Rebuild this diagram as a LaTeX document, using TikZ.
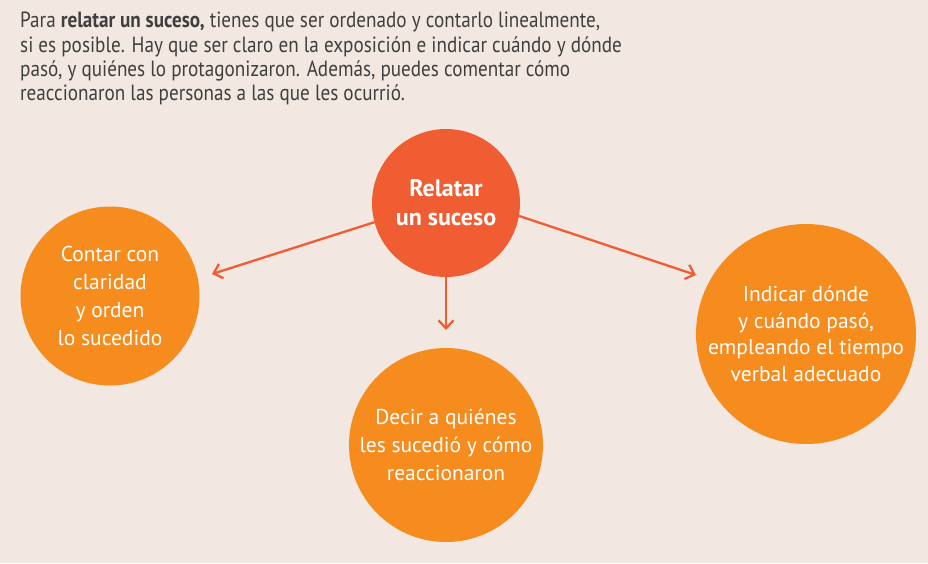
\documentclass[tikz,border=0pt]{standalone}
\usepackage{fontspec}
\setmainfont{PT Sans}
\newfontfamily\estrecha[FakeStretch=0.87]{PT Sans}
\usetikzlibrary{arrows.meta}
\definecolor{fondo}{HTML}{F2E7E1}
\definecolor{rojizo}{HTML}{F15D33}
\definecolor{naranja}{HTML}{F68B1E}
\definecolor{texto}{HTML}{3F3F3F}

\tikzset{
  idea/.style={circle, fill=naranja, inner sep=0pt, outer sep=0pt, text=white, align=center, font=\fontsize{21.5}{28}\selectfont},
  flecha/.style={->, draw=rojizo, line width=2.3pt},
}

\begin{document}
\begin{tikzpicture}[x=1pt, y=-1pt, >={Straight Barb[length=8pt,width=15pt]}]
  \fill[fondo] (0,0) rectangle (928,563);

  \node[anchor=north west, align=left, inner sep=0pt, text=texto, font=\estrecha\fontsize{22}{24.3}\selectfont] (intro) at (20,12)
    {Para \textbf{relatar un suceso,} tienes que ser ordenado y contarlo linealmente,\\
     si es posible. Hay que ser claro en la exposición e indicar cuándo y dónde\\
     pasó, y quiénes lo protagonizaron. Además, puedes comentar cómo\\
     reaccionaron las personas a las que les ocurrió.};

  \node[circle, fill=rojizo, minimum size=148pt, inner sep=0pt, outer sep=0pt, text=white, align=center, font=\bfseries\fontsize{24}{29}\selectfont] (suceso) at (446,203) {Relatar\\un suceso};

  \node[idea, minimum size=179pt] (claridad) at (110,296) {Contar con\\claridad\\y orden\\lo sucedido};
  \node[idea, minimum size=194pt] (quienes) at (446,445) {Decir a quiénes\\les sucedió y cómo\\reaccionaron};
  \node[idea, minimum size=220pt, font=\fontsize{21.5}{26.5}\selectfont] (donde) at (806,334) {Indicar dónde\\y cuándo pasó,\\empleando el tiempo\\verbal adecuado};

  \coordinate (punta izq) at (212,274);
  \coordinate (punta abajo) at (446,330);
  \coordinate (punta der) at (696,275);

  \draw[flecha] (suceso.195) -- (punta izq);
  \draw[flecha] (suceso.south) -- (punta abajo);
  \draw[flecha] (suceso.-10) -- (punta der);
\end{tikzpicture}
\end{document}
